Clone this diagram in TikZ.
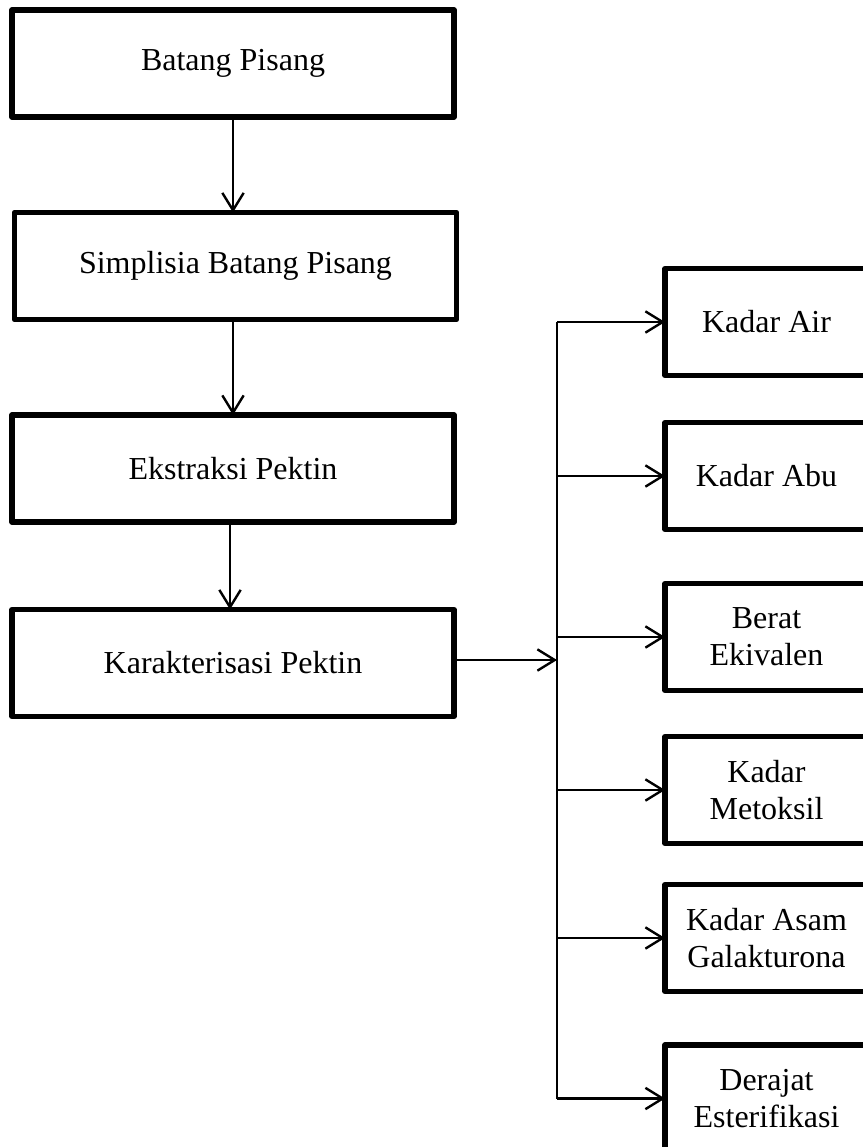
\documentclass[tikz,border=0pt]{standalone}
\usepackage{fontspec}
\setmainfont{Liberation Serif}
\usetikzlibrary{arrows.meta}
\begin{document}
\begin{tikzpicture}[x=0.75pt,y=-0.75pt,
  box/.style={draw, line width=4pt, line join=round, inner sep=0pt, outer sep=0pt,
    align=center, font=\fontsize{24}{28}\selectfont},
  leftbox/.style={box, minimum width=331.5pt, minimum height=80.25pt},
  rightbox/.style={box, minimum width=152.25pt, minimum height=80.25pt},
  conn/.style={line width=1.6pt, -{Straight Barb[length=13pt,width=16pt,line width=1.8pt]}},
  trunkline/.style={line width=1.6pt}]
\useasboundingbox (0,0) rectangle (863,1147);
\clip (0,0) rectangle (863,1147);
\fill[white] (0,0) rectangle (863,1147);
% left column
\node[leftbox] (b1) at (233,63.5) {Batang Pisang};
\node[leftbox] (b2) at (235.5,266) {Simplisia Batang Pisang};
\node[leftbox] (b3) at (233,468.5) {Ekstraksi Pektin};
\node[leftbox] (b4) at (233,663) {Karakterisasi Pektin};
% right column
\node[rightbox] (r1) at (766.5,322) {Kadar Air};
\node[rightbox] (r2) at (766.5,476) {Kadar Abu};
\node[rightbox] (r3) at (766.5,637) {Berat\\Ekivalen};
\node[rightbox] (r4) at (766.5,790) {Kadar\\Metoksil};
\node[rightbox] (r5) at (766.5,938) {Kadar Asam\\Galakturona};
\node[rightbox] (r6) at (766.5,1098.5) {Derajat\\Esterifikasi};
% trunk
\coordinate (tx) at (557,0);
\coordinate (ttop) at (tx |- r1.west);
\coordinate (tbot) at (tx |- r6.west);
\draw[trunkline] (ttop) -- (tbot);
% vertical arrows
\draw[conn] (b1.south) -- (b1.south |- b2.north);
\draw[conn] ([xshift=-1.875pt]b2.south) -- ([xshift=-1.875pt]b2.south |- b3.north);
\draw[conn] ([xshift=-2.25pt]b3.south) -- ([xshift=-2.25pt]b3.south |- b4.north);
% to trunk
\draw[conn] ([yshift=2.25pt]b4.east) -- ([yshift=2.25pt]b4.east -| tx);
% branches
\foreach \r in {r1,r2,r3,r4,r5,r6}
  \draw[conn] (tx |- \r.west) -- (\r.west);
\end{tikzpicture}
\end{document}
